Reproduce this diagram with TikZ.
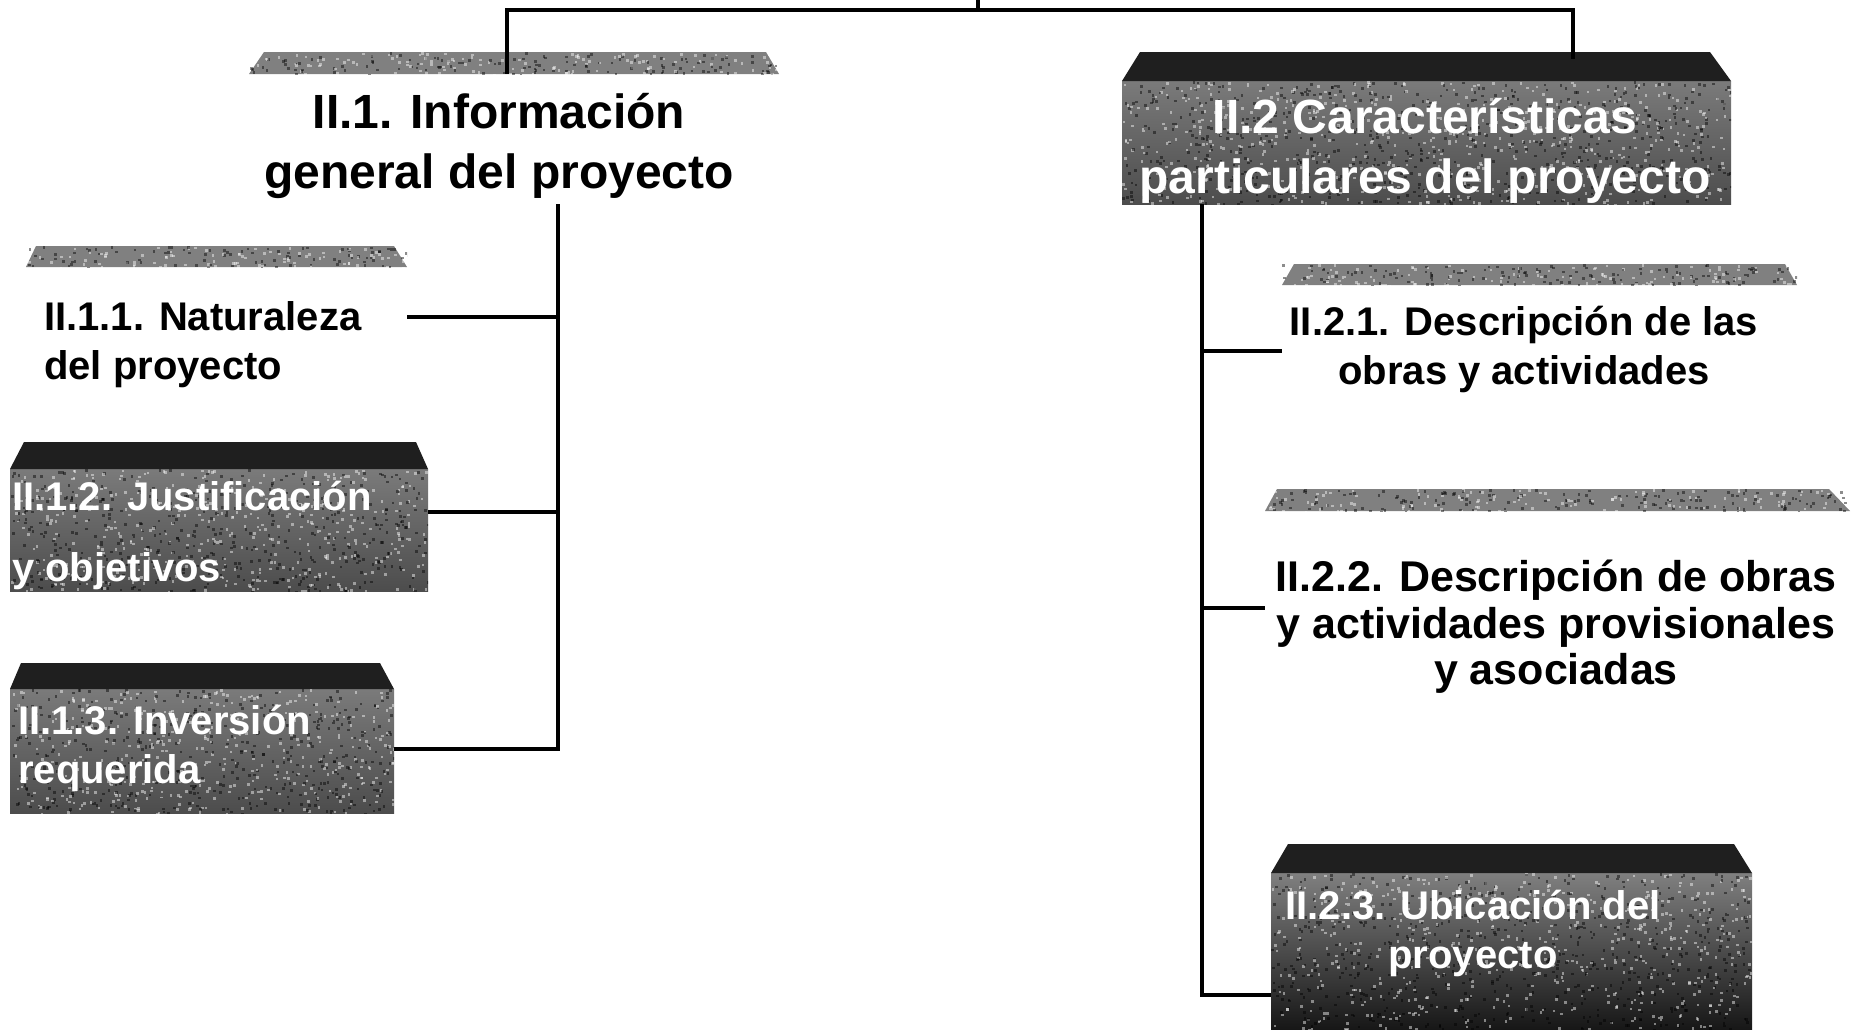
\documentclass[tikz,border=0pt]{standalone}
\usepackage{fontspec}
\setmainfont{Liberation Sans}
\newcommand\myspeck[6]{% x1 y1 x2 y2 count maxshade
  \begin{scope}
  \clip (#1,#2) rectangle (#3,#4);
  \foreach \k in {1,...,#5}{%
    \pgfmathsetmacro\sx{#1+rnd*(#3-#1)}%
    \pgfmathsetmacro\sy{#2+rnd*(#4-#2)}%
    \pgfmathsetmacro\cc{round(rnd)*#6}%
    \fill[black!\cc, opacity=0.45] (\sx,\sy) rectangle ++(2.6,2.6);
  }
  \end{scope}}
\begin{document}
\begin{tikzpicture}[x=1pt,y=-1pt,
  conn/.style={line width=3.6pt},
  lightbevel/.style={fill=black!50},
  darkbevel/.style={fill=black!88},
  lightbody/.style={rectangle, inner sep=0pt, fill=white},
  darkbody/.style={rectangle, inner sep=0pt, top color=black!52, bottom color=black!70},
  darkbody2/.style={rectangle, inner sep=0pt, top color=black!50, bottom color=black!92},
  bigtxt/.style={font=\fontsize{48}{60}\selectfont\bfseries, align=center, inner sep=0pt},
  smalltxt/.style={font=\fontsize{40}{49}\selectfont\bfseries, inner sep=0pt},
  midtxt/.style={font=\fontsize{43}{46.5}\selectfont\bfseries, align=center, inner sep=0pt}
]
\pgfmathsetseed{4711}
\useasboundingbox (0,0) rectangle (1862,1029);
\fill[white] (0,0) rectangle (1862,1029);

% ---------- bodies ----------
\node[lightbody, minimum width=530pt, minimum height=130pt] (n1body) at (514,139) {};
\node[lightbody, minimum width=381pt, minimum height=134pt] (n11body) at (216.5,334) {};
\node[darkbody, minimum width=418pt, minimum height=122pt] (n12body) at (219,530) {};
\node[darkbody, minimum width=384pt, minimum height=124pt] (n13body) at (202,751) {};
\node[darkbody, minimum width=609pt, minimum height=123pt] (n2body) at (1426.5,142.5) {};
\node[lightbody, minimum width=515pt, minimum height=160pt] (n21body) at (1539.5,365) {};
\node[lightbody, minimum width=585pt, minimum height=190pt] (n22body) at (1557.5,606) {};
\node[darkbody2, minimum width=481pt, minimum height=160pt] (n23body) at (1511.5,953) {};

% ---------- bevels ----------
\path[lightbevel] (264,52) -- (766,52) -- (779,74) -- (249,74) -- cycle;
\path[lightbevel] (36,246) -- (394,246) -- (407,267) -- (26,267) -- cycle;
\path[darkbevel] (24,442) -- (416,442) -- (428,469) -- (10,469) -- cycle;
\path[darkbevel] (21,663) -- (380,663) -- (394,689) -- (10,689) -- cycle;
\path[darkbevel] (1140,52) -- (1710,52) -- (1731,81) -- (1122,81) -- cycle;
\path[lightbevel] (1294,264) -- (1785,264) -- (1797,285) -- (1282,285) -- cycle;
\path[lightbevel] (1277,489) -- (1829,489) -- (1850,511) -- (1265,511) -- cycle;
\path[darkbevel] (1288,844) -- (1734,844) -- (1752,873) -- (1271,873) -- cycle;

% ---------- scan texture ----------
\myspeck{10}{469}{428}{591}{900}{100}
\myspeck{10}{689}{394}{813}{850}{100}
\myspeck{1122}{81}{1731}{204}{1300}{100}
\myspeck{1271}{873}{1752}{1029}{1200}{100}
\myspeck{249}{52}{779}{74}{260}{100}
\myspeck{26}{246}{407}{267}{180}{100}
\myspeck{1282}{264}{1797}{285}{250}{100}
\myspeck{1265}{489}{1850}{511}{280}{100}

% ---------- texts ----------
\node[bigtxt] (n1) at (499,145.5) {II.1. Información\\general del proyecto};
\node[smalltxt, anchor=west, align=left] (n11) at (44,345) {II.1.1. Naturaleza\\del proyecto};
\node[smalltxt, anchor=west, align=left, text=white] (n12) at (12,535) {II.1.2. Justificación\\[22pt]y objetivos};
\node[smalltxt, anchor=west, align=left, text=white] (n13) at (18,748) {II.1.3. Inversión\\requerida};
\node[bigtxt, text=white] (n2) at (1425,151) {II.2 Características\\particulares del proyecto};
\node[smalltxt, align=center] (n21) at (1524,349) {II.2.1. Descripción de las\\obras y actividades};
\node[midtxt] (n22) at (1556,627) {II.2.2. Descripción de obras\\y actividades provisionales\\y asociadas};
\node[smalltxt, align=center, text=white] (n23) at (1473,933) {II.2.3. Ubicación del\\proyecto};

% ---------- connector coordinates ----------
\coordinate (Ttop) at (978,-3);
\coordinate (Tc) at (978,10);
\coordinate (Tl) at (507,10);
\coordinate (Tr) at (1573,10);
\coordinate (L0) at (558,204);
\coordinate (L1) at (558,317);
\coordinate (L2) at (558,512);
\coordinate (L3) at (558,749);
\coordinate (R0) at (1202,204);
\coordinate (R1) at (1202,351);
\coordinate (R2) at (1202,608);
\coordinate (R3) at (1202,995);

% ---------- connectors ----------
\draw[conn] (Ttop) -- (Tc);
\draw[conn] (Tl |- n1body.north) -- (Tl) -- (Tr) -- ([yshift=22pt]Tr |- n2body.north);
\draw[conn] (L0) -- (L3) -- (n13body.east |- L3);
\draw[conn] (L1) -- (n11body.east |- L1);
\draw[conn] (L2) -- (n12body.east |- L2);
\draw[conn] (R0) -- (R3) -- (n23body.west |- R3);
\draw[conn] (R1) -- (n21body.west |- R1);
\draw[conn] (R2) -- (n22body.west |- R2);
\end{tikzpicture}
\end{document}
